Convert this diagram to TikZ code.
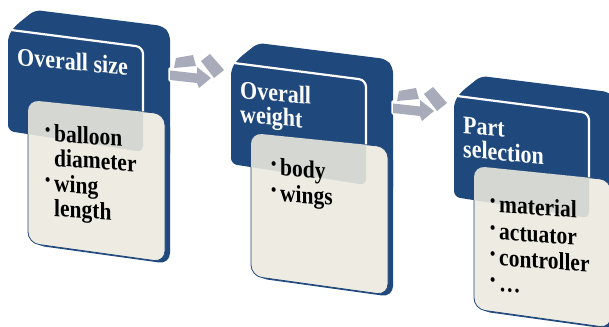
\documentclass[tikz,border=0pt]{standalone}
\usepackage{fontspec}
\setmainfont{Liberation Serif}
\definecolor{darkb}{HTML}{1F487C}
\definecolor{cardc}{HTML}{EEECE2}
\definecolor{ovl}{HTML}{D5D7D3}
\definecolor{arrg}{HTML}{A8ACBA}
\newcommand{\bul}{\makebox[9pt][l]{\raisebox{5pt}{\fontsize{15}{15}\selectfont •}}}
\begin{document}
\begin{tikzpicture}[x=1pt,y=-1pt,
  ttl/.style={text=white, font=\fontsize{22}{24}\selectfont\bfseries, anchor=base west, inner sep=0pt, yscale=1.15, yslant=-0.08},
  itm/.style={text=black, font=\fontsize{21.5}{24}\selectfont\bfseries, anchor=base west, inner sep=0pt, yscale=1.15, yslant=-0.06},
  backface/.style={fill=darkb, rounded corners=6},
  edge/.style={draw=white, line width=2.2, rounded corners=7},
  cardbox/.style={fill=cardc, draw=darkb, line width=0.8, rounded corners=11},
  cardedge/.style={fill=darkb, rounded corners=11},
  arrline/.style={draw=white, line width=3.4, line join=round},
  arrfill/.style={fill=arrg},
]
\useasboundingbox (0,0) rectangle (609,326);
\clip (0,0) rectangle (609,326);
\foreach \k in {0,1,2}{
  \begin{scope}[shift={(223*\k,33*\k)}]
    % dark back box with depth
    \path[backface] (143,152) -- (8,131) -- (8,36) -- (15,26) -- (35,10) -- (163,26) -- (170,34) -- (170,160) -- cycle;
    % white highlight edge
    \draw[edge] (11,30) -- (143,47) -- (143,114);
    % card thickness
    \path[cardedge] (33,102) -- (170,116) -- (170,264) -- (33,245) -- cycle;
    % card
    \path[cardbox] (28,100) -- (165,114) -- (165,262) -- (28,243) -- cycle;
    % overlap of card with front face
    \begin{scope}
      \clip[rounded corners=11] (28,100) -- (165,114) -- (165,262) -- (28,243) -- cycle;
      \fill[ovl, rounded corners=6] (8,32) -- (143,48) -- (143,152) -- (8,131) -- cycle;
    \end{scope}
  \end{scope}
}
% arrows
\foreach \k in {0,1}{
  \begin{scope}[shift={(223*\k,33*\k)}]
    \path[arrline] (176,58) -- (193,55) -- (196,66) -- (174,68) -- cycle;
    \path[arrline] (170,69) -- (197,72) -- (197,67) -- (211,78) -- (199,88) -- (197,83) -- (170,80) -- cycle;
    \path[arrline, line width=1.2] (201,61) -- (210,54) -- (224,70) -- (214,78) -- cycle;
    \path[arrfill] (176,58) -- (193,55) -- (196,66) -- (174,68) -- cycle;
    \path[arrfill] (170,70.5) -- (197,73.5) -- (197,67) -- (211,78) -- (199,88) -- (197,83) -- (170,80) -- cycle;
    \path[arrfill] (201,61) -- (210,54) -- (224,70) -- (214,78) -- cycle;
  \end{scope}
}
% group 1 text
\node[ttl] (t1) at (17,65) {Overall size};
\node[itm] (a1) at (45,141) {\bul balloon};
\node[itm] (a2) at (54,166) {diameter};
\node[itm] (a3) at (45,191) {\bul wing};
\node[itm] (a4) at (54,216) {length};
% group 2 text
\node[ttl] (t2a) at (240,98) {Overall};
\node[ttl] (t2b) at (240,122) {weight};
\node[itm] (b1) at (271,175) {\bul body};
\node[itm] (b2) at (271,201) {\bul wings};
% group 3 text
\node[ttl] (t3a) at (463,133) {Part};
\node[ttl] (t3b) at (463,157) {selection};
\node[itm] (c1) at (490,212) {\bul material};
\node[itm] (c2) at (490,239) {\bul actuator};
\node[itm] (c3) at (490,265) {\bul controller};
\node[itm] (c4) at (490,291) {\bul …};
\end{tikzpicture}
\end{document}
